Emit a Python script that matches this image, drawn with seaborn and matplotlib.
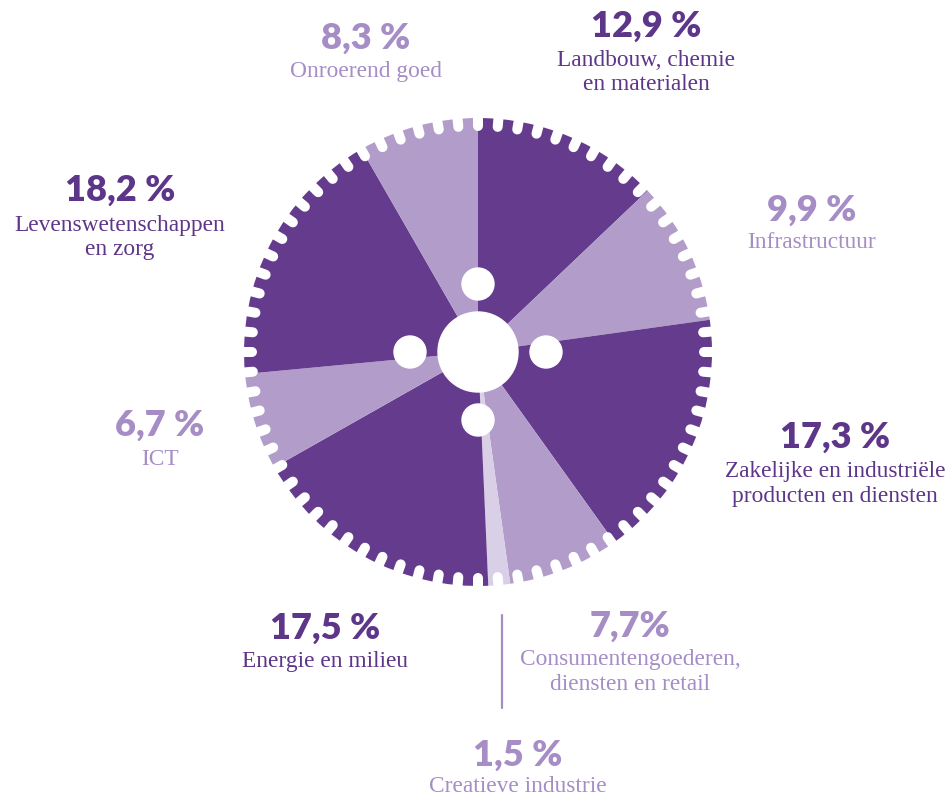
import numpy as np
import matplotlib
matplotlib.use("Agg")
import matplotlib.pyplot as plt
import seaborn as sns
from matplotlib.patches import Circle

# ---- data (clockwise from 12 o'clock) ----
sectors = ["Landbouw, chemie\nen materialen", "Infrastructuur",
           "Zakelijke en industriële\nproducten en diensten",
           "Consumentengoederen,\ndiensten en retail", "Creatieve industrie",
           "Energie en milieu", "ICT", "Levenswetenschappen\nen zorg", "Onroerend goed"]
shares = [12.9, 9.9, 17.3, 7.7, 1.5, 17.5, 6.7, 18.2, 8.3]
pct_labels = ["12,9 %", "9,9 %", "17,3 %", "7,7%", "1,5 %", "17,5 %", "6,7 %", "18,2 %", "8,3 %"]
tone = ["dark", "light", "dark", "light", "pale", "dark", "light", "dark", "light"]

sns.set_theme(style="white")
plt.rcParams['font.family'] = ['DejaVu Sans']

DARK = "#653b8e"
LIGHT = "#b29dca"
PALE = "#d9cfe6"
TXT_DARK = "#5e3689"
TXT_LIGHT = "#a68dc6"
slice_col = {"dark": DARK, "light": LIGHT, "pale": PALE}
text_col = {"dark": TXT_DARK, "light": TXT_LIGHT, "pale": TXT_LIGHT}

W, H = 953, 801
fig = plt.figure(figsize=(W / 100, H / 100), dpi=100)
ax = fig.add_axes([0, 0, 1, 1])

cx, cy = 478, H - 352
R = 234
ax.pie(shares, colors=[slice_col[t] for t in tone], startangle=90, counterclock=False,
       center=(cx, cy), radius=R, wedgeprops=dict(linewidth=0), frame=True)
ax.set_xlim(0, W)
ax.set_ylim(0, H)
ax.set_aspect('equal')
ax.axis('off')

# gear notches
n_notch = 72
notch_w = 10
depth = 13
for k in range(n_notch):
    a = np.deg2rad(90 - k * 360 / n_notch)
    r_in = R - depth + notch_w / 2
    r_out = R + 12
    ax.plot([cx + r_in * np.cos(a), cx + r_out * np.cos(a)],
            [cy + r_in * np.sin(a), cy + r_out * np.sin(a)],
            color="white", lw=notch_w * 0.72, solid_capstyle='round', zorder=3)

# center hub
ax.add_patch(Circle((cx, cy), 40, color="white", zorder=4))
for dx, dy in [(0, 68), (68, 0), (0, -68), (-68, 0)]:
    ax.add_patch(Circle((cx + dx, cy + dy), 16, color="white", zorder=4))

# label positions (pixel coords: x, y of percentage, y of first text line)
pos = [(646, 26, 60), (812, 210, 243), (835, 437, 472), (630, 626, 660),
       (518, 755, 787), (325, 628, 662), (160, 425, 460), (120, 190, 225),
       (366, 38, 72)]

pct_font = dict(family=["Lato", "DejaVu Sans"], fontweight="heavy", fontsize=26)
lab_font = dict(family=["Liberation Serif", "DejaVu Serif"], fontsize=16.8)
for name, pl, t, (x, yp, yl) in zip(sectors, pct_labels, tone, pos):
    c = text_col[t]
    ax.text(x, H - yp, pl, ha="center", va="center", color=c, **pct_font)
    for i, line in enumerate(name.split("\n")):
        ax.text(x, H - yl - i * 25, line, ha="center", va="center", color=c, **lab_font)

# leader line for Creatieve industrie
ax.plot([502, 502], [H - 615, H - 708], color=TXT_LIGHT, lw=1.6)

fig.savefig("out.png", dpi=100, facecolor="white")
